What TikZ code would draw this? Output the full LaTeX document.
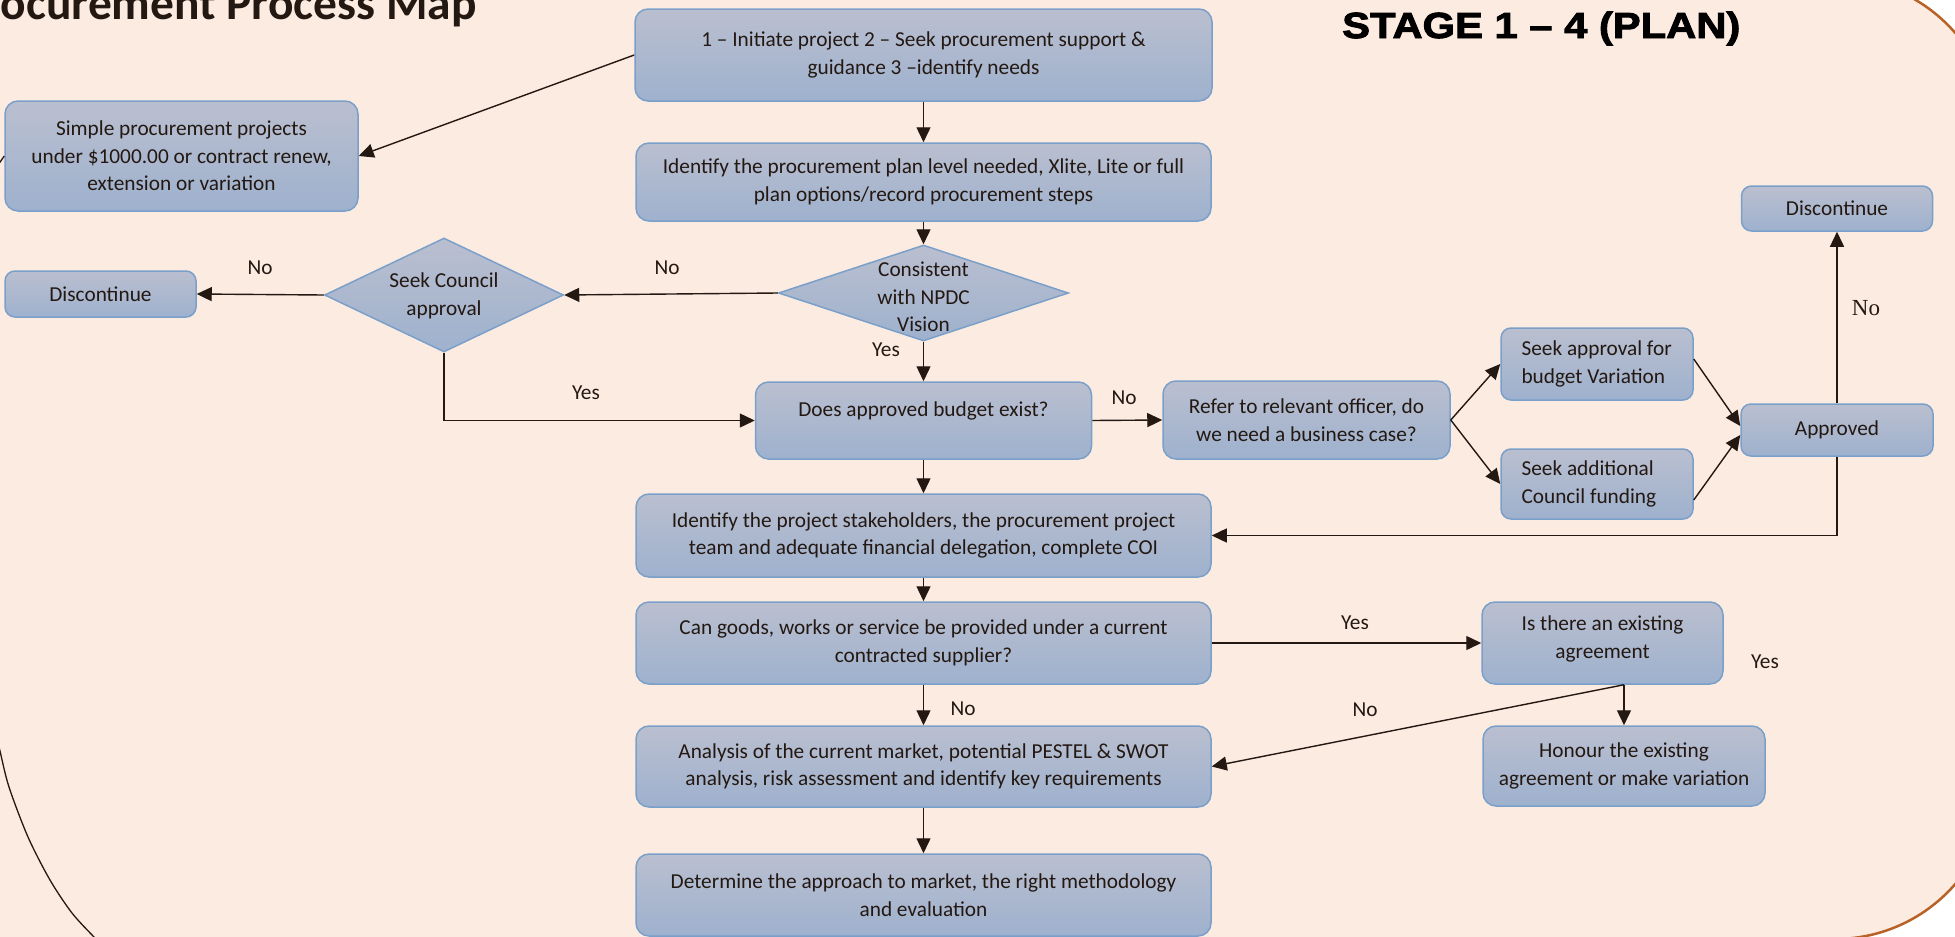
\documentclass[tikz,border=0pt]{standalone}
\usepackage{fontspec}
\setmainfont{Carlito}
\newfontfamily\stagefont{Liberation Sans}[FakeStretch=1.15,BoldFeatures={FakeBold=2.5}]
\newfontfamily\noserif{Liberation Serif}
\usetikzlibrary{shapes.geometric,arrows.meta,calc}

\definecolor{peach}{RGB}{252,235,225}
\definecolor{rim}{RGB}{184,98,40}
\definecolor{ink}{RGB}{35,24,18}
\definecolor{boxtop}{RGB}{186,191,207}
\definecolor{boxbot}{RGB}{158,177,206}
\definecolor{boxline}{RGB}{122,160,202}

\newcommand\boxfont{\fontsize{21.3}{27.5}\selectfont}
% a left-aligned line of fixed width, for the two funding boxes
\newcommand\seekline[1]{\makebox[151pt][l]{#1}}

\tikzset{
  proc/.style={draw=boxline, line width=1.5pt, rounded corners=13pt,
    top color=boxtop, bottom color=boxbot, align=center, text=ink,
    font=\boxfont, inner sep=0pt},
  smallproc/.style={proc, rounded corners=10pt},
  decide/.style={diamond, draw=boxline, line width=1.5pt,
    top color=boxtop, bottom color=boxbot, inner sep=0pt},
  decidetext/.style={align=center, text=ink, font=\boxfont, inner sep=0pt},
  flow/.style={draw=ink, line width=1.4pt, -{Triangle[length=15pt,width=14pt]}},
  lbl/.style={text=ink, font=\boxfont, inner sep=0pt},
  curve/.style={draw=ink, line width=1.3pt},
}

\begin{document}
\begin{tikzpicture}[x=1pt, y=-1pt]
\useasboundingbox (0,0) rectangle (1955,937);

% page background and rounded frame
\fill[white] (0,0) rectangle (1955,937);
\filldraw[fill=peach, draw=rim, line width=2.5pt, rounded corners=159pt]
  (-300,-22) rectangle (1994,939);

% headings
\node[anchor=base east, inner sep=0pt, text=ink,
  font=\bfseries\fontsize{47.5}{55}\selectfont] (title) at (477,19)
  {Procurement Process Map};
\node[anchor=base west, inner sep=0pt, text=black,
  font=\stagefont\bfseries\fontsize{36.3}{42}\selectfont] (stage) at (1342,38)
  {STAGE 1 – 4 (PLAN)};

% main column
\node[proc, minimum width=577, minimum height=92] (init) at (923.5,55)
  {1 – Initiate project 2 – Seek procurement support \&\\guidance 3 –identify needs};
\node[proc, minimum width=575, minimum height=78] (plan) at (923.5,182)
  {Identify the procurement plan level needed, Xlite, Lite or full\\plan options/record procurement steps};
\node[decide, minimum width=290, minimum height=96] (vision) at (923.5,293) {};
\node[decidetext] (visiontext) at (923.5,297) {Consistent\\with NPDC\\Vision};
\node[proc, minimum width=336, minimum height=77] (budget) at (923.5,420.5)
  {Does approved budget exist?\\[-4pt]\mbox{}};
\node[proc, minimum width=575, minimum height=83] (coi) at (923.5,535.5)
  {Identify the project stakeholders, the procurement project\\team and adequate financial delegation, complete COI};
\node[proc, minimum width=575, minimum height=82] (can) at (923.5,643)
  {Can goods, works or service be provided under a current\\contracted supplier?};
\node[proc, minimum width=575, minimum height=81] (analysis) at (923.5,766.5)
  {Analysis of the current market, potential PESTEL \& SWOT\\analysis, risk assessment and identify key requirements};
\node[proc, minimum width=575, minimum height=82] (determine) at (923.5,895)
  {Determine the approach to market, the right methodology\\and evaluation};

% left side
\node[proc, minimum width=353, minimum height=110] (simple) at (181.5,156)
  {Simple procurement projects\\under \$1000.00 or contract renew,\\extension or variation};
\node[decide, minimum width=239, minimum height=114] (council) at (444,295) {};
\node[decidetext] (counciltext) at (444,296) {Seek Council\\approval};
\node[smallproc, minimum width=191, minimum height=46] (discL) at (100.5,294) {Discontinue};

% right side
\node[proc, minimum width=287, minimum height=78] (refer) at (1306.5,420)
  {Refer to relevant officer, do\\we need a business case?};
\node[smallproc, minimum width=192, minimum height=72] (seekvar) at (1597,364)
  {\seekline{Seek approval for}\\\seekline{budget Variation}};
\node[smallproc, minimum width=192, minimum height=70] (seekfund) at (1597,484)
  {\seekline{Seek additional}\\\seekline{Council funding}};
\node[smallproc, minimum width=192, minimum height=52] (approved) at (1837,430) {Approved};
\node[smallproc, minimum width=191, minimum height=45] (discR) at (1837,208.5) {Discontinue};
\node[proc, minimum width=241, minimum height=82] (isthere) at (1602.5,643)
  {Is there an existing\\agreement\\[-16pt]\mbox{}};
\node[proc, minimum width=282, minimum height=80] (honour) at (1624,766)
  {Honour the existing\\agreement or make variation};

% branch labels
\node[lbl] (noDisc) at (260,268) {No};
\node[lbl] (noVision) at (667,268) {No};
\node[lbl] (yesVision) at (886,350) {Yes};
\node[lbl] (yesCouncil) at (586,393) {Yes};
\node[lbl] (noBudget) at (1124,398) {No};
\node[text=ink, inner sep=0pt, font=\noserif\fontsize{23}{27}\selectfont] (noApproved) at (1866,308) {No};
\node[lbl] (yesCan) at (1355,623) {Yes};
\node[lbl] (noCan) at (963,709) {No};
\node[lbl] (noExisting) at (1365,710) {No};
\node[lbl] (yesExisting) at (1765,662) {Yes};

% connectors
\draw[flow] (init.west) -- (simple.east);
\draw[flow] (init.south) -- (plan.north);
\draw[flow] (plan.south) -- (vision.north);
\draw[flow] (vision.west) -- (council.east);
\draw[flow] (council.west) -- (discL.east);
\draw[flow] (vision.south) -- (budget.north);
\draw[flow] (council.south) |- (budget.west);
\draw[flow] (budget.east) -- (refer.west);
\draw[flow] (refer.east) -- (seekvar.west);
\draw[flow] (refer.east) -- (seekfund.west);
\draw[flow] ($(seekvar.east)+(0,-5)$) -- ($(approved.west)+(0,-4)$);
\draw[flow] ($(seekfund.east)+(0,16)$) -- ($(approved.west)+(0,5)$);
\draw[flow] (approved.north) -- (discR.south);
\draw[flow] (approved.south) |- (coi.east);
\draw[flow] (budget.south) -- (coi.north);
\draw[flow] (coi.south) -- (can.north);
\draw[flow] (can.east) -- (isthere.west);
\draw[flow] (can.south) -- (analysis.north);
\draw[flow] (analysis.south) -- (determine.north);
\coordinate (fork) at (isthere.south -| honour.north);
\draw[flow] (fork) -- (honour.north);
\draw[flow] (fork) -- (analysis.east);

% loop line along the left margin
\draw[curve] (simple.west) -- (-4,168);
\draw[curve] plot[smooth] coordinates
  {(-6,725) (0,751) (9,787) (28,837) (50,880) (72,913) (94,937) (102,945)};
\end{tikzpicture}
\end{document}
